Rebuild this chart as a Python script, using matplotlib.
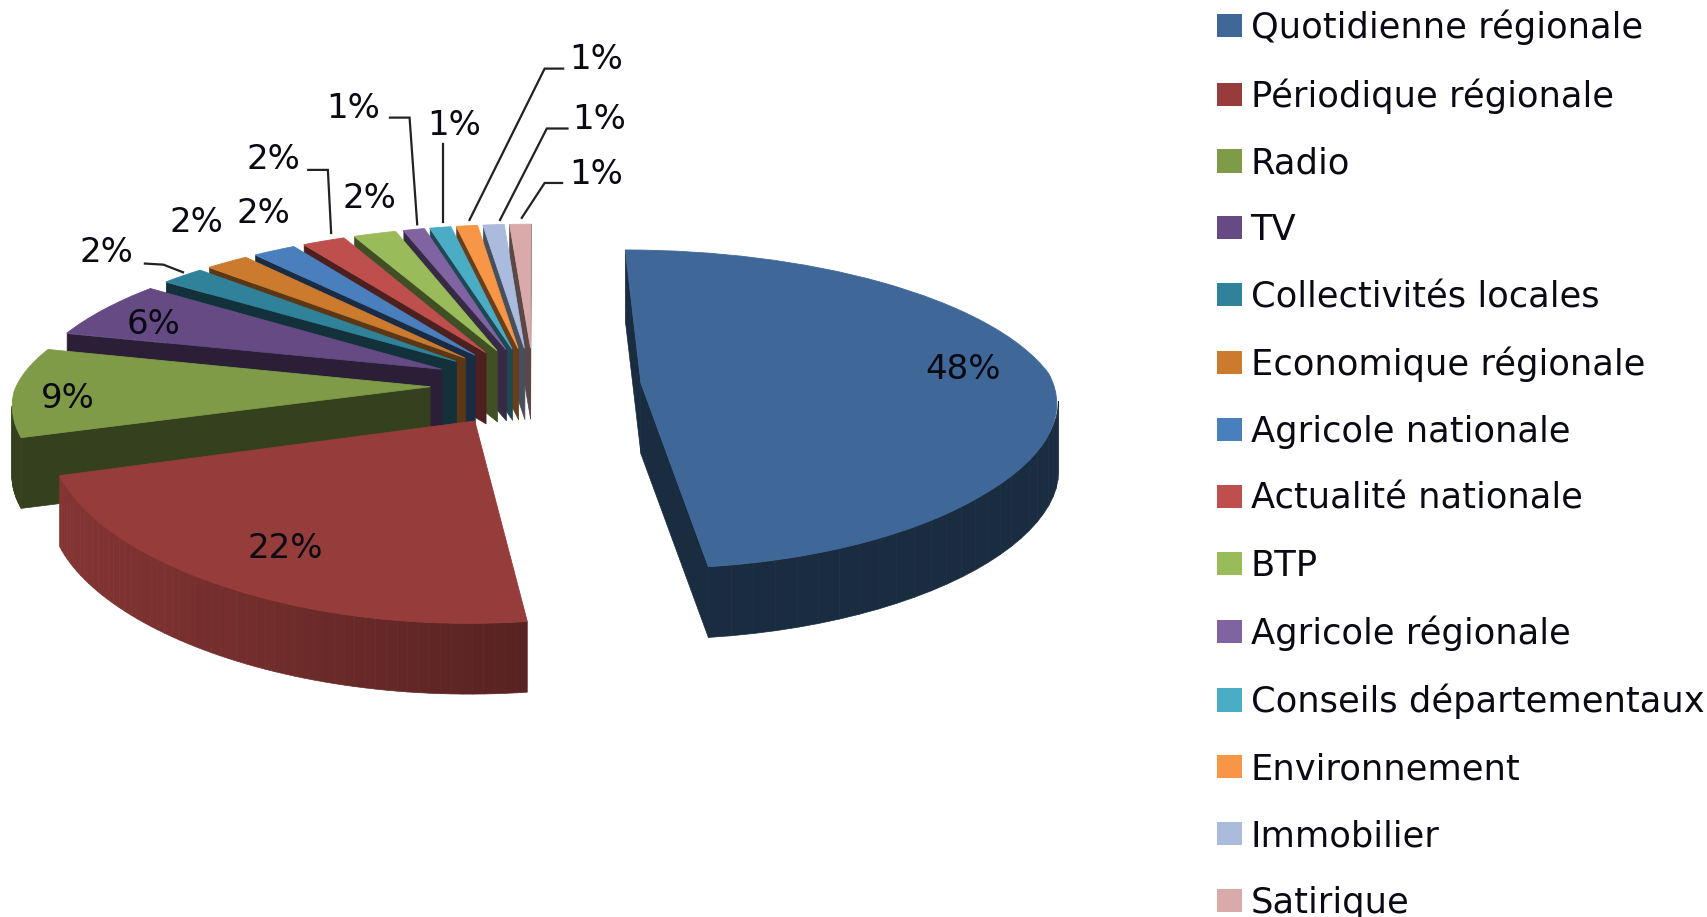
import numpy as np
import matplotlib
matplotlib.use("Agg")
import matplotlib.pyplot as plt
from matplotlib.patches import Patch
from matplotlib.collections import PolyCollection
from matplotlib.transforms import Transform
from matplotlib.colors import to_rgb

categories = ["Quotidienne régionale", "Périodique régionale", "Radio", "TV",
              "Collectivités locales", "Economique régionale", "Agricole nationale",
              "Actualité nationale", "BTP", "Agricole régionale",
              "Conseils départementaux", "Environnement", "Immobilier", "Satirique"]
values = [48, 22, 9, 6, 2, 2, 2, 2, 2, 1, 1, 1, 1, 1]
colors = ["#3F6899", "#963C3A", "#7F9B48", "#654A84", "#2F8299", "#CB7A2E", "#4A7FBE",
          "#BE4F4D", "#9ABB59", "#8064A2", "#4BACC6", "#F79646", "#AABBDD", "#D9AAA9"]
# shading of the outer wall (left/right end of the arc) and radial wall
arc_shade = [(.42, .42), (.58, .88), (.42, .42), (.42, .42), (.42, .42), (.5, .5), (.42, .42),
             (.45, .45), (.45, .45), (.42, .42), (.42, .42), (.45, .45), (.45, .45), (.5, .5)]
wall_shade = [.42, .55, .42, .42, .38, .45, .35, .4, .42, .42, .42, .42, .42, .42]
explode = [.26, .26] + [.25] * 12

CX, CY, A, B, PX, PX_SOFT, PY, DEPTH = 490, 354, 380, 143, .13, .04, .165, 65


class Tilt(Transform):
    input_dims = output_dims = 2
    is_separable = False
    has_inverse = False

    def transform_non_affine(self, uv):
        uv = np.asarray(uv, float)
        v = uv[:, 1]
        return np.column_stack([CX + A * uv[:, 0] / (1 + PX * v + PX_SOFT * v * np.tanh(4 * v)),
                                CY - B * v / (1 + PY * v)])


tilt = Tilt()
fig = plt.figure(figsize=(17.08, 9.17), dpi=100)
ax = fig.add_axes([0, 0, 1, 1])
wedges, _ = ax.pie(values, colors=colors, startangle=90, counterclock=False,
                   explode=explode, radius=1, wedgeprops={"linewidth": 0})
ax.set_aspect("auto")
ax.set_xlim(0, 1568)
ax.set_ylim(842, 0)
ax.axis("off")

n = len(wedges)
for i, w in enumerate(wedges):
    z = 2 + 2 * (n - i)
    w.set_transform(tilt + ax.transData)
    w.set_zorder(z + 1)
    w.set_edgecolor(colors[i])
    w.set_linewidth(.6)
    t = np.radians(np.linspace(w.theta1, w.theta2, 60))
    cu, cv = w.center
    uv = np.vstack([[cu, cv], np.column_stack([cu + np.cos(t), cv + np.sin(t)]), [cu, cv]])
    xy = tilt.transform_non_affine(uv)
    x, y = xy[:, 0], xy[:, 1]
    area = np.sum(x[:-1] * y[1:] - x[1:] * y[:-1])
    quads, fc = [], []
    base = np.array(to_rgb(colors[i]))
    xmin, xmax = x[1:-1].min(), x[1:-1].max()
    for j in range(len(xy) - 1):
        p, q = xy[j], xy[j + 1]
        d = q - p
        # outward normal in screen space (y axis points down)
        ny = -d[0] if area > 0 else d[0]
        if ny <= 0:
            continue
        quads.append([p, q, q + [0, DEPTH], p + [0, DEPTH]])
        if j == 0 or j == len(xy) - 2:
            f = wall_shade[i]
        else:
            k = ((p[0] + q[0]) / 2 - xmin) / max(xmax - xmin, 1)
            f = arc_shade[i][1] + (arc_shade[i][0] - arc_shade[i][1]) * k
        fc.append(base * f)
    ax.add_collection(PolyCollection(quads, facecolors=fc, edgecolors=fc, linewidths=.5,
                                     zorder=z, clip_on=False))

pct = [f"{v}%" for v in values]
label_x = [884, 262, 62, 141, 98, 180, 242, 251, 339, 324, 417, 547, 550, 547]
label_y = [339, 504, 366, 298, 232, 204, 196, 146, 182, 100, 115, 55, 110, 160]
for s, lx, ly in zip(pct, label_x, label_y):
    ax.text(lx, ly, s, ha="center", va="center", fontsize=24.5, color="#0A0A14", zorder=60)

leaders = [([133, 150, 168], [242, 243, 250]),
           ([283, 301, 304], [156, 156, 214]),
           ([358, 376, 383], [108, 108, 206]),
           ([407, 407], [132, 204]),
           ([517, 500, 431], [63, 63, 202]),
           ([521, 502, 459], [118, 118, 202]),
           ([516, 500, 479], [168, 168, 200])]
for lxs, lys in leaders:
    ax.plot(lxs, lys, color="#222222", lw=1.6, zorder=55, solid_joinstyle="miter")

handles = [Patch(facecolor=c, edgecolor="none", label=l) for c, l in zip(colors, categories)]
leg = ax.legend(handles=handles, loc="upper left", bbox_to_anchor=(1117, 9),
                bbox_transform=ax.transData, frameon=False, fontsize=25.4, borderpad=0,
                borderaxespad=0, handlelength=.71, handleheight=.63, handletextpad=.25,
                labelspacing=.93, labelcolor="#0A0A14")
fig.savefig("out.png", dpi=100, facecolor="white")
